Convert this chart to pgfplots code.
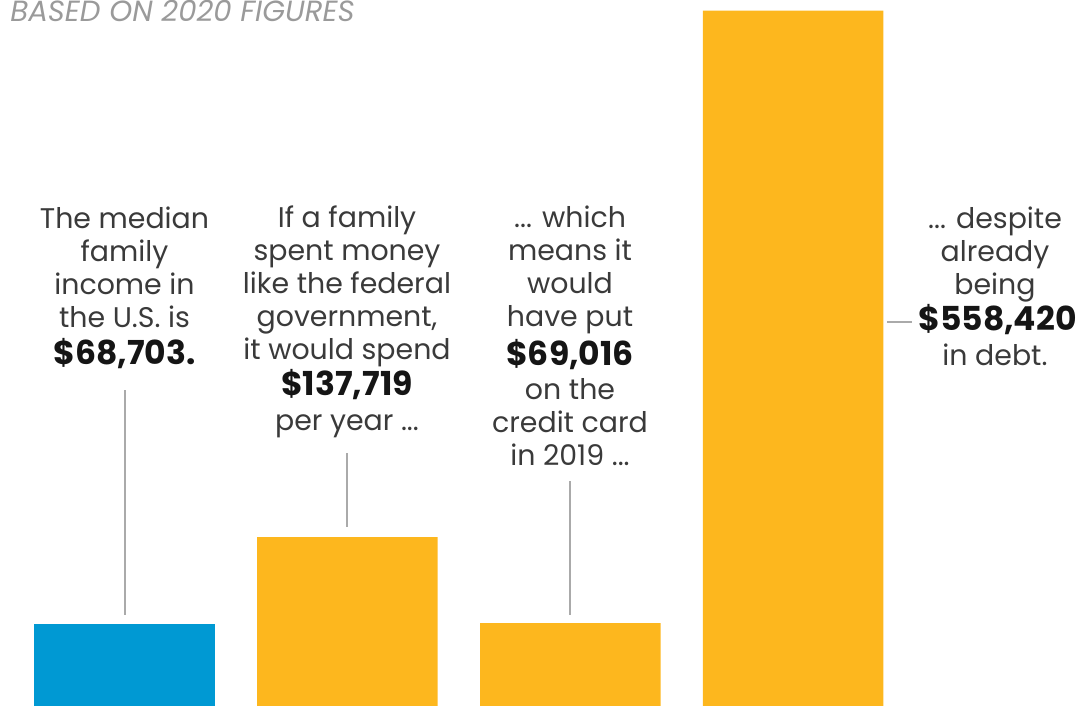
\documentclass[border=0pt]{standalone}
\usepackage{pgfplots}
\pgfplotsset{compat=1.18}
\usepackage{fontspec}
\setmainfont{Poppins}
\definecolor{barblue}{HTML}{0099D3}
\definecolor{baryellow}{HTML}{FDB71E}
\definecolor{leader}{HTML}{AAAAAA}
\definecolor{txt}{HTML}{3A3A3A}
\definecolor{txtbold}{HTML}{151515}
\definecolor{ttl}{HTML}{9A9A9A}

% one pixel of the reference = 0.5pt
\tikzset{
  px/.style={x=0.5pt, y=-0.5pt},
  lt/.style={anchor=base, inner sep=0pt, text=txt, font=\fontsize{14.2}{16}\selectfont},
  bt/.style={anchor=base, inner sep=0pt, text=txtbold, font=\fontsize{16.5}{18}\selectfont\bfseries},
}
\newcommand\lt[3]{\node[lt] at (#1,#2) {#3};}
\newcommand\bt[3]{\node[bt] at (#1,#2) {#3};}

\begin{document}
\begin{tikzpicture}
\useasboundingbox (0pt,-353pt) rectangle (540.5pt,0pt);
\clip (0pt,-353pt) rectangle (540.5pt,0pt);

\begin{axis}[
  at={(0pt,-353pt)}, anchor=south west,
  scale only axis, width=540.5pt, height=353pt,
  hide axis,
  xmin=0, xmax=1081,
  ymin=2800, ymax=567000,
  ybar, bar width=180.5, bar shift=0pt,
]
\addplot[fill=barblue, draw=none] coordinates {(124.5,68703)};
\addplot[fill=baryellow, draw=none] coordinates {(347.4,137719) (570.3,69016) (793.2,558420)};
\end{axis}

\begin{scope}[px]
% title
\node[anchor=base west, inner sep=0pt, text=ttl, font=\fontsize{14.6}{16}\selectfont\itshape] at (10,22) {BASED ON 2020 FIGURES};

% leader lines
\draw[leader, line width=1pt] (124.5,390) -- (124.5,615);
\draw[leader, line width=1pt] (347.4,453) -- (347.4,527);
\draw[leader, line width=1pt] (570.3,481) -- (570.3,615);
\draw[leader, line width=1pt] (887,322) -- (912,322);

% label 1
\lt{124.5}{228}{The median}
\lt{124.5}{261}{family}
\lt{124.5}{294}{income in}
\lt{124.5}{327}{the U.S. is}
\bt{124.5}{364}{\$68,703.}

% label 2
\lt{347}{227}{If a family}
\lt{347}{260}{spent money}
\lt{347}{293}{like the federal}
\lt{347}{326}{government,}
\lt{347}{359}{it would spend}
\bt{347}{395}{\$137,719}
\lt{347}{430}{per year ...}

% label 3
\lt{570}{227}{... which}
\lt{570}{260}{means it}
\lt{570}{293}{would}
\lt{570}{326}{have put}
\bt{570}{365}{\$69,016}
\lt{570}{399}{on the}
\lt{570}{432}{credit card}
\lt{570}{465}{in 2019 ...}

% label 4
\lt{995}{228}{... despite}
\lt{995}{261}{already}
\lt{995}{294}{being}
\node[bt, anchor=base west] at (918,330) {\$558,420};
\lt{995}{365}{in debt.}
\end{scope}
\end{tikzpicture}
\end{document}
